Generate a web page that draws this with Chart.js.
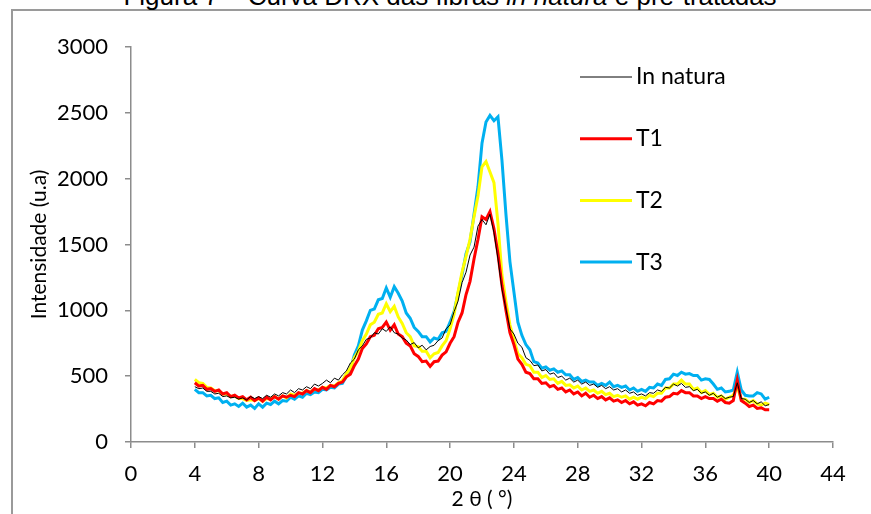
<!DOCTYPE html>
<html>
<head>
<meta charset="utf-8">
<script src="https://cdn.jsdelivr.net/npm/chart.js@4.4.1/dist/chart.umd.min.js"></script>
<style>
  html, body { margin: 0; padding: 0; background: #fff; overflow: hidden; }
  #wrap { position: relative; width: 871px; height: 514px; overflow: hidden; }
  #frame { position: absolute; left: 11px; top: 9px; width: 900px; height: 600px;
           border-left: 2px solid #9a9a9a; border-top: 2px solid #9a9a9a; }
  #titulo { position: absolute; left: 0; top: -19px; width: 900px; text-align: center;
            font-family: 'Liberation Sans', Arial, sans-serif; font-size: 26px; line-height: 30px; color: #000; }
  canvas { position: absolute; left: 0; top: 0; }
</style>
</head>
<body>
<div id="wrap">
  <div id="frame"></div>
  <div id="titulo">Figura 7 – Curva DRX das fibras <i>in natura</i> e pré-tratadas</div>
  <canvas id="Grafico" width="871" height="514"></canvas>
</div>
<script>
// 2 theta (graus)
var angulos = [
  4, 4.25, 4.5, 4.75, 5, 5.25, 5.5, 5.75, 6, 6.25, 6.5, 6.75, 7, 7.25, 7.5, 7.75,
  8, 8.25, 8.5, 8.75, 9, 9.25, 9.5, 9.75, 10, 10.25, 10.5, 10.75, 11, 11.25, 11.5, 11.75,
  12, 12.25, 12.5, 12.75, 13, 13.25, 13.5, 13.75, 14, 14.25, 14.5, 14.75, 15, 15.25, 15.5, 15.75,
  16, 16.25, 16.5, 16.75, 17, 17.25, 17.5, 17.75, 18, 18.25, 18.5, 18.75, 19, 19.25, 19.5, 19.75,
  20, 20.25, 20.5, 20.75, 21, 21.25, 21.5, 21.75, 22, 22.25, 22.5, 22.75, 23, 23.25, 23.5, 23.75,
  24, 24.25, 24.5, 24.75, 25, 25.25, 25.5, 25.75, 26, 26.25, 26.5, 26.75, 27, 27.25, 27.5, 27.75,
  28, 28.25, 28.5, 28.75, 29, 29.25, 29.5, 29.75, 30, 30.25, 30.5, 30.75, 31, 31.25, 31.5, 31.75,
  32, 32.25, 32.5, 32.75, 33, 33.25, 33.5, 33.75, 34, 34.25, 34.5, 34.75, 35, 35.25, 35.5, 35.75,
  36, 36.25, 36.5, 36.75, 37, 37.25, 37.5, 37.75, 38, 38.25, 38.5, 38.75, 39, 39.25, 39.5, 39.75,
  40
];

var inNatura = [
  420, 405, 410, 385, 385, 365, 370, 345, 350, 335, 340, 325, 335, 320, 345, 330,
  345, 330, 355, 340, 365, 350, 375, 365, 395, 375, 405, 395, 420, 405, 440, 425,
  445, 470, 450, 485, 470, 510, 540, 600, 630, 700, 730, 780, 790, 830, 820, 860,
  840, 875, 830, 820, 790, 775, 740, 755, 715, 735, 700, 725, 735, 770, 790, 860,
  890, 990, 1070, 1210, 1290, 1420, 1480, 1640, 1690, 1650, 1730, 1590, 1390, 1160, 1010, 860,
  820, 750, 720, 640, 620, 580, 585, 540, 550, 515, 525, 490, 500, 470, 485, 455,
  470, 440, 455, 430, 440, 415, 430, 405, 420, 395, 405, 380, 395, 370, 380, 355,
  365, 350, 375, 370, 395, 385, 415, 410, 440, 425, 445, 415, 420, 390, 400, 370,
  380, 355, 370, 340, 355, 330, 340, 345, 450, 330, 325, 300, 315, 290, 305, 275,
  285
];

var t1 = [
  450, 425, 430, 400, 405, 385, 395, 365, 375, 345, 355, 335, 345, 320, 340, 315,
  335, 310, 340, 320, 345, 325, 350, 340, 355, 345, 375, 365, 390, 375, 405, 390,
  415, 400, 430, 420, 445, 455, 495, 515, 580, 630, 710, 745, 800, 810, 860, 870,
  910, 850, 890, 820, 800, 750, 730, 670, 650, 610, 615, 575, 610, 615, 660, 685,
  750, 800, 910, 980, 1120, 1220, 1390, 1540, 1710, 1690, 1750, 1620, 1430, 1190, 1000, 830,
  740, 630, 590, 530, 520, 480, 480, 445, 450, 420, 430, 400, 410, 380, 395, 365,
  380, 350, 370, 340, 355, 330, 345, 320, 335, 310, 320, 300, 315, 290, 305, 280,
  290, 275, 300, 290, 315, 310, 340, 345, 370, 365, 390, 375, 375, 350, 350, 330,
  345, 330, 330, 310, 325, 300, 295, 315, 470, 315, 295, 270, 280, 255, 260, 245,
  245
];

var t2 = [
  475, 450, 445, 415, 410, 390, 390, 365, 365, 345, 350, 330, 330, 315, 320, 315,
  330, 310, 330, 325, 345, 325, 350, 335, 365, 355, 370, 370, 390, 380, 400, 395,
  415, 410, 430, 425, 450, 465, 520, 560, 640, 690, 770, 820, 890, 910, 970, 980,
  1050, 990, 1030, 950, 900, 830, 800, 730, 725, 690, 690, 640, 670, 680, 730, 770,
  860, 970, 1140, 1290, 1410, 1540, 1710, 1870, 2090, 2130, 2050, 1970, 1660, 1270, 1070, 890,
  780, 670, 640, 590, 580, 530, 530, 490, 505, 475, 480, 445, 460, 430, 435, 410,
  425, 395, 410, 385, 395, 370, 385, 360, 370, 345, 355, 340, 350, 325, 340, 325,
  340, 330, 355, 345, 370, 370, 410, 410, 440, 440, 470, 440, 440, 400, 410, 375,
  390, 360, 370, 340, 350, 325, 340, 355, 420, 325, 325, 300, 315, 290, 280, 295,
  285
];

var t3 = [
  400, 375, 375, 350, 355, 330, 335, 300, 310, 280, 290, 270, 295, 265, 280, 255,
  290, 265, 295, 285, 310, 290, 315, 310, 340, 325, 350, 340, 370, 360, 380, 375,
  400, 395, 415, 410, 440, 445, 500, 550, 660, 730, 850, 920, 1000, 1010, 1080, 1090,
  1170, 1100, 1180, 1130, 1070, 980, 940, 870, 840, 800, 800, 760, 790, 780, 830, 840,
  910, 990, 1130, 1270, 1430, 1520, 1730, 1940, 2270, 2430, 2480, 2440, 2470, 2140, 1730, 1370,
  1140, 910, 810, 740, 700, 610, 600, 560, 570, 545, 555, 530, 540, 510, 510, 475,
  490, 460, 470, 455, 455, 430, 445, 430, 455, 420, 430, 415, 425, 395, 410, 385,
  400, 385, 415, 410, 440, 430, 475, 480, 515, 505, 530, 515, 520, 505, 505, 470,
  480, 475, 440, 400, 410, 380, 385, 395, 530, 395, 355, 350, 350, 375, 365, 325,
  340
];

function pontos(valores) {
    return angulos.map(function (a, i) { return { x: a, y: valores[i] }; });
}

Chart.defaults.font.family = "Lato, 'Noto Sans', sans-serif";
Chart.defaults.color = '#000';

// legenda no estilo do Excel, dentro da area do grafico
var legendaExcel = {
    id: 'legendaExcel',
    afterDraw: function (chart) {
        var ctx = chart.ctx;
        var area = chart.chartArea;
        ctx.save();
        ctx.font = "23px Lato, 'Noto Sans', sans-serif";
        ctx.textBaseline = 'middle';
        chart.data.datasets.forEach(function (ds, i) {
            var y = area.top + 30 + i * 61.7;
            ctx.strokeStyle = ds.borderColor;
            ctx.lineWidth = ds.borderWidth;
            ctx.beginPath();
            ctx.moveTo(area.left + 449, y);
            ctx.lineTo(area.left + 501, y);
            ctx.stroke();
            ctx.fillStyle = '#000';
            ctx.fillText(ds.label, area.left + 505, y);
        });
        ctx.restore();
    }
};

var GKChart = document.getElementById('Grafico').getContext('2d');
var dataChart = new Chart(GKChart, {
    type: 'line',
    data: {
        datasets: [
            { label: 'In natura', data: pontos(inNatura), borderColor: '#000000', borderWidth: 1 },
            { label: 'T1', data: pontos(t1), borderColor: '#FF0000', borderWidth: 3 },
            { label: 'T2', data: pontos(t2), borderColor: '#FFFF00', borderWidth: 3 },
            { label: 'T3', data: pontos(t3), borderColor: '#00B0F0', borderWidth: 3 }
        ]
    },
    options: {
        responsive: false,
        animation: false,
        layout: { padding: { left: 0, top: 47, right: 38, bottom: 0 } },
        elements: { point: { radius: 0 }, line: { tension: 0, fill: false } },
        plugins: { legend: { display: false }, tooltip: { enabled: false } },
        scales: {
            x: {
                type: 'linear', min: 0, max: 44,
                afterFit: function (s) { s.height = 72; },
                ticks: { stepSize: 4, font: { size: 22 }, padding: 13, maxRotation: 0 },
                grid: { drawOnChartArea: false, tickLength: 6, color: '#8c8c8c', lineWidth: 1.5 },
                border: { color: '#8c8c8c', width: 1.5 },
                title: { display: true, text: '2 θ ( °)', font: { size: 21 }, padding: { top: 0, bottom: 2 } }
            },
            y: {
                min: 0, max: 3000,
                afterFit: function (s) { s.width = 131; },
                ticks: {
                    stepSize: 500, font: { size: 22 }, padding: 17,
                    callback: function (v) { return String(v); }
                },
                grid: { drawOnChartArea: false, tickLength: 6, color: '#8c8c8c', lineWidth: 1.5 },
                border: { color: '#8c8c8c', width: 1.5 },
                title: { display: true, text: 'Intensidade (u.a)', font: { size: 21 }, padding: { top: 27, bottom: 0 } }
            }
        }
    },
    plugins: [legendaExcel]
});
</script>
</body>
</html>
